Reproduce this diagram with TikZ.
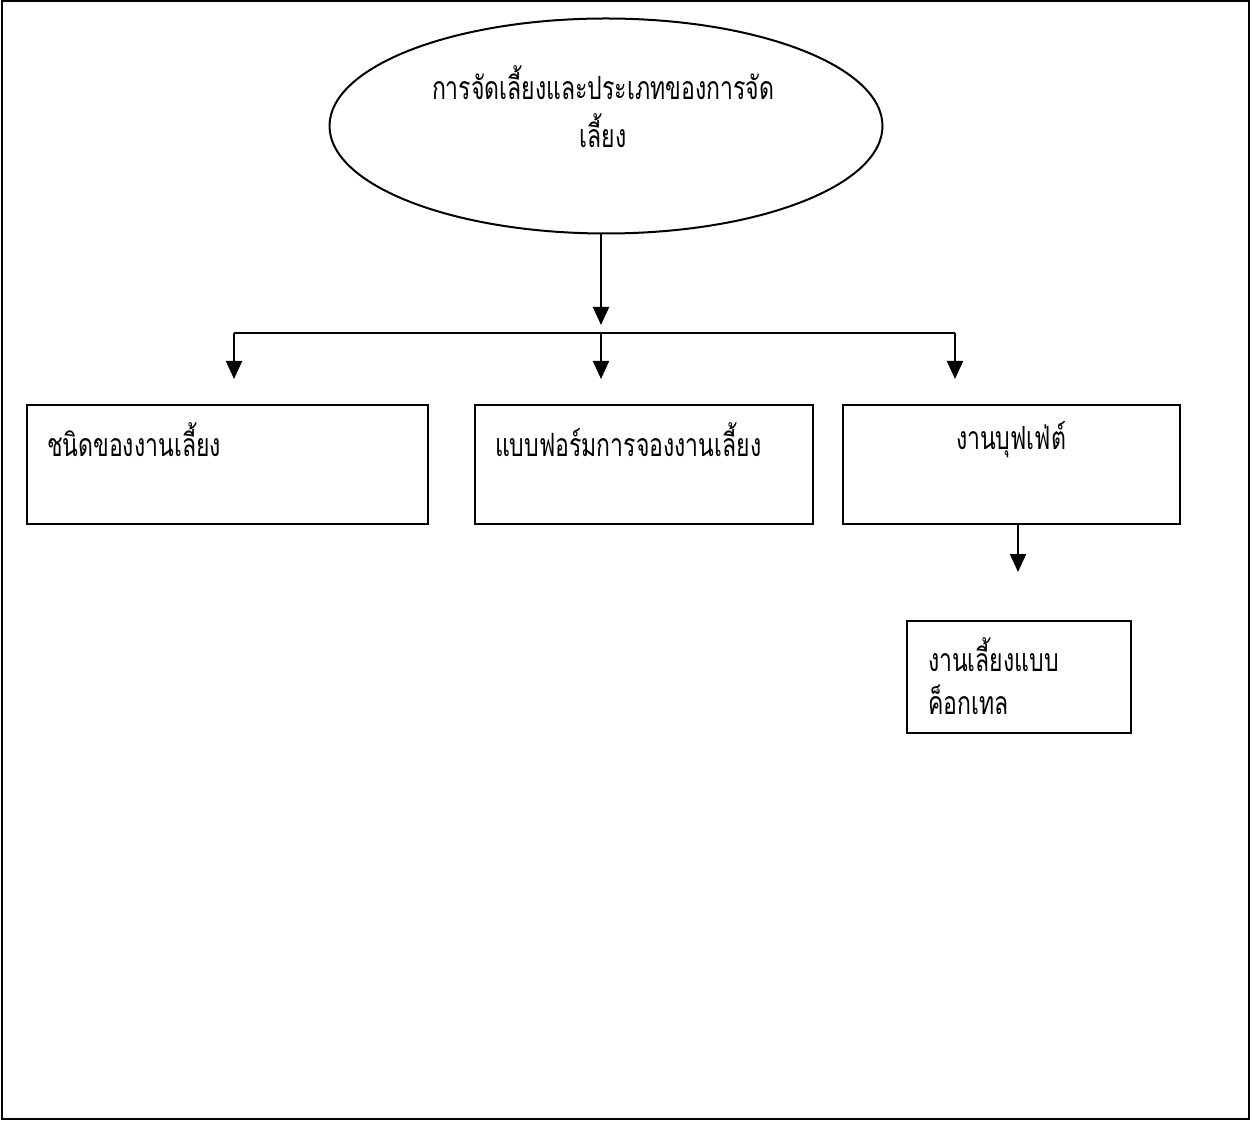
\documentclass[tikz,border=0pt]{standalone}
\usepackage{fontspec}
\newfontfamily\thai[Script=Thai,FakeStretch=0.72]{Loma}
\usetikzlibrary{arrows.meta,shapes.geometric}
\begin{document}
\begin{tikzpicture}[x=0.5pt,y=-0.5pt,
  line width=1pt,
  every node/.style={font=\thai\fontsize{16pt}{19pt}\selectfont},
  box/.style={draw,rectangle,anchor=north west,inner sep=0pt},
  oval/.style={draw,ellipse,inner sep=0pt,minimum width=276.5pt,minimum height=107.5pt},
  lbl/.style={inner sep=0pt,anchor=west},
  clbl/.style={inner sep=0pt},
  arr/.style={-{Triangle[width=8pt,length=9pt]}}]
\useasboundingbox (0,0) rectangle (1252,1122);
% page frame
\draw (2,1) rectangle (1249,1119);

% top ellipse and its title
\node[oval] (top) at (606,126) {};
\node[clbl] (t1) at (603,83) {การจัดเลี้ยงและประเภทของการจัด};
\node[clbl] (t2) at (603,131) {เลี้ยง};

% boxes
\node[box,minimum width=200.5pt,minimum height=59.5pt] (b1) at (26,404) {};
\node[box,minimum width=169pt,minimum height=59.5pt] (b2) at (474,404) {};
\node[box,minimum width=168.5pt,minimum height=59.5pt] (b3) at (842,404) {};
\node[box,minimum width=112pt,minimum height=56pt] (b4) at (906,620) {};

\node[lbl] (l1) at (46,440) {ชนิดของงานเลี้ยง};
\node[lbl] (l2) at (494,440) {แบบฟอร์มการจองงานเลี้ยง};
\node[clbl] (l3) at (1011,440) {งานบุฟเฟ่ต์};
\node[lbl] (l4a) at (927,655) {งานเลี้ยงแบบ};
\node[lbl] (l4b) at (927,700) {ค็อกเทล};

% connector points
\coordinate (mainTip) at (601,325);
\coordinate (hl) at (234,333);
\coordinate (hm) at (601,333);
\coordinate (hr) at (955,333);
\coordinate (e1) at (234,379);
\coordinate (e2) at (601,379);
\coordinate (e3) at (955,379);
\coordinate (s4) at (1018,523);
\coordinate (e4) at (1018,572);

\draw[arr] (top.south -| mainTip) -- (mainTip);
\draw (hl) -- (hr);
\draw[arr] (hl) -- (e1);
\draw[arr] (hm) -- (e2);
\draw[arr] (hr) -- (e3);
\draw[arr] (s4) -- (e4);
\end{tikzpicture}
\end{document}
